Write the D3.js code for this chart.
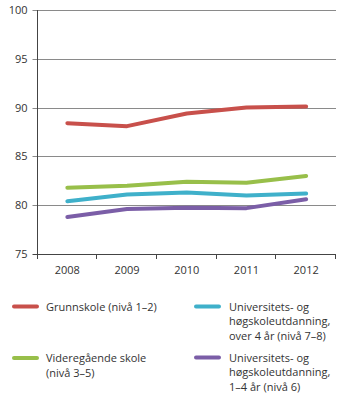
<!DOCTYPE html>
<html><head><meta charset="utf-8">
<script src="https://cdn.jsdelivr.net/npm/d3@7"></script>
<style>body{margin:0;background:#fff}svg{display:block}text{font-family:"Open Sans",sans-serif;fill:#333}</style>
</head><body><svg id="c" width="350" height="403"></svg>
<script>
const years = ["2008","2009","2010","2011","2012"];
const grunnskole = [88.4, 88.1, 89.4, 90.0, 90.1];
const videregaende = [81.8, 82.0, 82.4, 82.3, 83.0];
const uniOver4 = [80.4, 81.1, 81.3, 81.0, 81.2];
const uni1to4 = [78.8, 79.6, 79.75, 79.7, 80.6];
const yTicks = [75, 80, 85, 90, 95, 100];
const seriesNames = ["Grunnskole (nivå 1–2)", "Videregående skole (nivå 3–5)", "Universitets- og høgskoleutdanning, over 4 år (nivå 7–8)", "Universitets- og høgskoleutdanning, 1–4 år (nivå 6)"];
const colors = ["#c8504b", "#98bf4a", "#3fb0ca", "#7b5ea7"];

const series = [grunnskole, videregaende, uniOver4, uni1to4];
const svg = d3.select("#c");
const L = 37.5, R = 336, T = 10, B = 254;
const x = d3.scaleBand().domain(years).range([L, R]);
const y = d3.scaleLinear().domain([75, 100]).range([B, T]);

// grid
svg.append("g").selectAll("line").data(yTicks.filter(d => d > 75)).join("line")
  .attr("x1", L - 5).attr("x2", R).attr("y1", d => Math.round(y(d)) + 0.5).attr("y2", d => Math.round(y(d)) + 0.5)
  .attr("stroke", "#8a8a8a").attr("stroke-width", 1);
// y axis labels
svg.append("g").selectAll("text").data(yTicks).join("text")
  .attr("x", L - 10).attr("y", d => Math.round(y(d)) + 4).attr("text-anchor", "end")
  .attr("font-size", 11).text(d => d);
// left axis
svg.append("line").attr("x1", L).attr("x2", L).attr("y1", Math.round(y(100))).attr("y2", B + 5).attr("stroke", "#444");
// bottom axis
svg.append("line").attr("x1", L - 5).attr("x2", R).attr("y1", B + 0.5).attr("y2", B + 0.5).attr("stroke", "#444");
const bounds = years.map(d => x(d)).concat([R]);
svg.append("g").selectAll("line").data(bounds.slice(1)).join("line")
  .attr("x1", d => Math.round(d) - 0.5).attr("x2", d => Math.round(d) - 0.5).attr("y1", B).attr("y2", B + 5).attr("stroke", "#444");
svg.append("g").selectAll("text").data(years).join("text")
  .attr("x", d => x(d) + x.bandwidth() / 2).attr("y", B + 20).attr("text-anchor", "middle")
  .attr("font-size", 11).text(d => d);

// lines
const line = d3.line().x((d, i) => x(years[i]) + x.bandwidth() / 2).y(d => y(d));
series.forEach((s, i) => {
  svg.append("path").datum(s).attr("d", line).attr("fill", "none")
    .attr("stroke", colors[i]).attr("stroke-width", 4).attr("stroke-linecap", "round").attr("stroke-linejoin", "round");
});

// legend
const legendLines = [
  ["Grunnskole (nivå 1–2)"],
  ["Videregående skole", "(nivå 3–5)"],
  ["Universitets- og", "høgskoleutdanning,", "over 4 år (nivå 7–8)"],
  ["Universitets- og", "høgskoleutdanning,", "1–4 år (nivå 6)"]
];
const legPos = [[12, 306.5], [12, 358], [194, 306.5], [194, 357.5]];
legendLines.forEach((lines, i) => {
  const [lx, ly] = legPos[i];
  const g = svg.append("g");
  g.append("line").attr("x1", lx + 2).attr("x2", lx + 25).attr("y1", ly).attr("y2", ly)
    .attr("stroke", colors[i]).attr("stroke-width", 4).attr("stroke-linecap", "round");
  const t = g.append("text").attr("x", lx + 34 + (i >= 2 ? 1 : 0)).attr("y", ly + 4).attr("font-size", 11);
  lines.forEach((ln, j) => t.append("tspan").attr("x", lx + 34 + (i >= 2 ? 1 : 0)).attr("dy", j ? 14.5 : 0).text(ln));
});
</script></body></html>
